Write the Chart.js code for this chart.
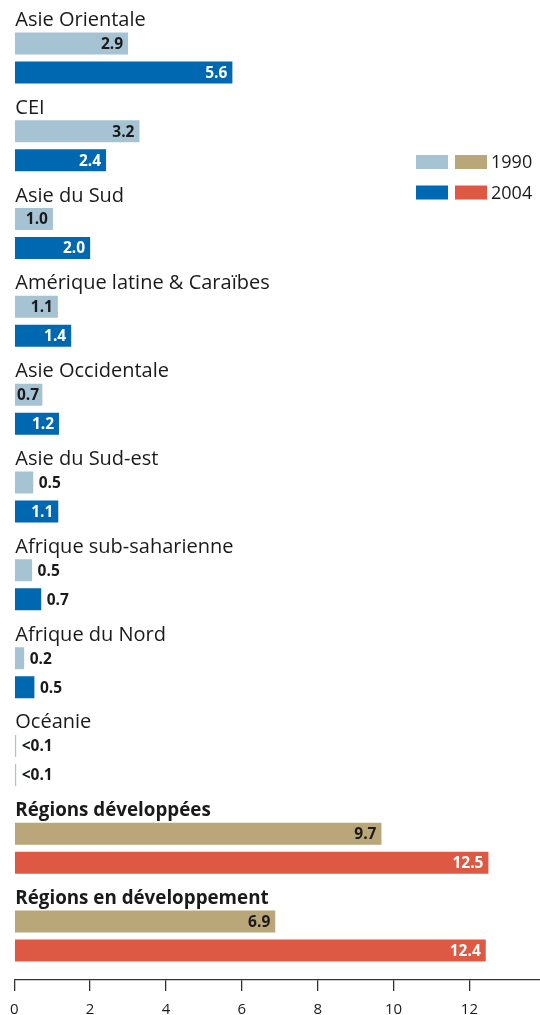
<!DOCTYPE html>
<html lang="fr">
<head>
  <meta charset="UTF-8">
  <title>1990 / 2004</title>
  <script src="https://cdn.jsdelivr.net/npm/chart.js"></script>
  <style>
    html, body { margin: 0; padding: 0; background: #fff; }
    #wrap { width: 540px; height: 1015px; position: relative; }
  </style>
</head>
<body>
  <div id="wrap"><canvas id="chart"></canvas></div>

  <script>
    // donnees
    const categories = [
      'Asie Orientale', 'CEI', 'Asie du Sud', 'Amérique latine & Caraïbes',
      'Asie Occidentale', 'Asie du Sud-est', 'Afrique sub-saharienne',
      'Afrique du Nord', 'Océanie', 'Régions développées', 'Régions en développement'
    ];
    const values1990 = [3.0, 3.3, 1.02, 1.15, 0.74, 0.5, 0.47, 0.26, 0.05, 9.68, 6.88];
    const values2004 = [5.75, 2.42, 2.0, 1.5, 1.18, 1.16, 0.71, 0.53, 0.05, 12.5, 12.43];
    const labels1990 = ['2.9', '3.2', '1.0', '1.1', '0.7', '0.5', '0.5', '0.2', '<0.1', '9.7', '6.9'];
    const labels2004 = ['5.6', '2.4', '2.0', '1.4', '1.2', '1.1', '0.7', '0.5', '<0.1', '12.5', '12.4'];
    const xTicks = [0, 2, 4, 6, 8, 10, 12];
    const seriesNames = ['1990', '2004'];

    const LIGHT_BLUE = '#a6c3d4';
    const DARK_BLUE = '#0067b1';
    const TAN = '#b9a679';
    const RED = '#dd5943';
    const INK = '#1a1a1a';
    const FONT = '"Open Sans", "Noto Sans", sans-serif';
    const firstTotal = 9; // les deux dernieres lignes sont les totaux

    const colors1990 = categories.map((c, i) => i < firstTotal ? LIGHT_BLUE : TAN);
    // Oceanie : les deux traits sont bleu clair sur l'original
    const colors2004 = categories.map((c, i) => i === 8 ? LIGHT_BLUE : (i < firstTotal ? DARK_BLUE : RED));

    // noms des regions au-dessus des barres + valeurs
    const textPlugin = {
      id: 'textPlugin',
      afterDatasetsDraw(chart) {
        const ctx = chart.ctx;
        const yScale = chart.scales.y;
        const left = chart.chartArea.left;
        ctx.save();
        ctx.fillStyle = INK;
        ctx.textAlign = 'left';
        ctx.textBaseline = 'alphabetic';
        categories.forEach((name, i) => {
          ctx.font = (i >= firstTotal ? 'bold 18.8px ' : '20px ') + FONT;
          ctx.fillText(name, left + 1, yScale.getPixelForValue(i) - 32);
        });

        const texts = [labels1990, labels2004];
        ctx.font = 'bold 15.5px ' + FONT;
        ctx.textBaseline = 'middle';
        ctx.textAlign = 'left';
        chart.data.datasets.forEach((ds, d) => {
          chart.getDatasetMeta(d).data.forEach((bar, i) => {
            const txt = texts[d][i];
            const w = ctx.measureText(txt).width;
            const inside = ds.data[i] > 0.72;
            if (inside) {
              ctx.fillStyle = d === 1 ? '#ffffff' : INK;
              const x = Math.max(bar.x - 5 - w, bar.base + 2);
              ctx.fillText(txt, x, bar.y + 1);
            } else {
              ctx.fillStyle = INK;
              ctx.fillText(txt, bar.x + 5.5, bar.y + 1);
            }
          });
        });
        ctx.restore();
      }
    };

    // legende a deux pastilles
    const legendPlugin = {
      id: 'legendPlugin',
      afterDraw(chart) {
        const ctx = chart.ctx;
        const rows = [[LIGHT_BLUE, TAN], [DARK_BLUE, RED]];
        ctx.save();
        ctx.font = '18px ' + FONT;
        ctx.textBaseline = 'middle';
        rows.forEach((pair, r) => {
          const y = 155 + r * 30.5;
          ctx.fillStyle = pair[0];
          ctx.fillRect(416, y, 32, 14);
          ctx.fillStyle = pair[1];
          ctx.fillRect(455, y, 32, 14);
          ctx.fillStyle = INK;
          ctx.fillText(seriesNames[r], 491, y + 8);
        });
        ctx.restore();
      }
    };

    new Chart(document.getElementById('chart'), {
      type: 'bar',
      data: {
        labels: categories,
        datasets: [
          { label: seriesNames[0], data: values1990, backgroundColor: colors1990 },
          { label: seriesNames[1], data: values2004, backgroundColor: colors2004 }
        ]
      },
      options: {
        indexAxis: 'y',
        responsive: true,
        maintainAspectRatio: false,
        animation: false,
        categoryPercentage: 0.6606,
        barPercentage: 0.7586,
        layout: { padding: { top: 14, left: 13, right: 0, bottom: 0 } },
        plugins: {
          legend: { display: false },
          tooltip: { enabled: false }
        },
        scales: {
          y: { display: false },
          x: {
            min: 0,
            max: 13.86,
            afterBuildTicks: (scale) => { scale.ticks = xTicks.map(v => ({ value: v })); },
            afterFit: (scale) => { scale.height = 35; },
            border: { display: true, color: '#333', width: 1.3 },
            grid: { drawOnChartArea: false, drawTicks: true, tickLength: 11, color: '#333', lineWidth: 1.3 },
            ticks: { color: INK, padding: 10, font: { family: FONT, size: 15 } }
          }
        }
      },
      plugins: [textPlugin, legendPlugin]
    });
  </script>
</body>
</html>
